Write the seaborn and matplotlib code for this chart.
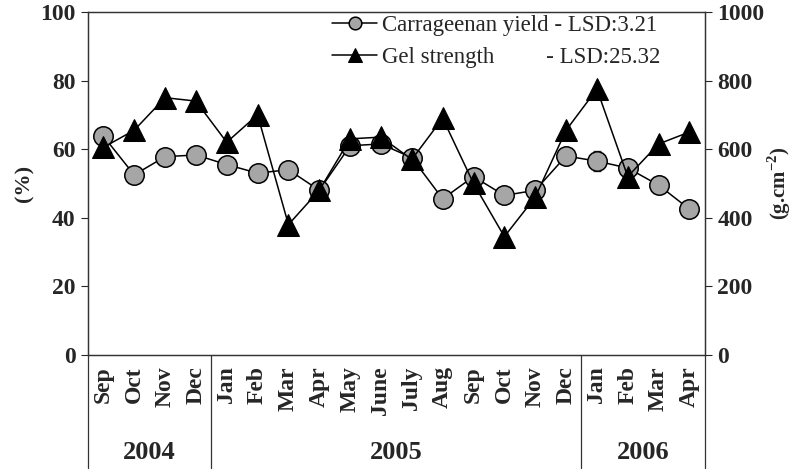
import matplotlib
matplotlib.use("Agg")
import matplotlib.pyplot as plt
import seaborn as sns
import numpy as np
import pandas as pd

months = ["Sep", "Oct", "Nov", "Dec", "Jan", "Feb", "Mar", "Apr", "May", "June",
          "July", "Aug", "Sep", "Oct", "Nov", "Dec", "Jan", "Feb", "Mar", "Apr"]
years = ["2004", "2005", "2006"]
year_counts = [4, 12, 4]
carrageenan_yield = [63.8, 52.5, 57.8, 58.3, 55.5, 53.0, 54.0, 48.0, 61.0, 61.5,
                     57.5, 45.5, 52.0, 46.5, 48.0, 58.0, 56.5, 54.5, 49.5, 42.5]
yield_err = [0, 0, 0, 0, 0, 0, 0, 0, 0, 0, 0, 0, 0, 0, 0, 0, 3.0, 0, 0, 0]
gel_strength = [605, 655, 750, 740, 620, 700, 380, 480, 630, 635,
                570, 690, 500, 345, 460, 655, 775, 520, 615, 650]

sns.set_style("white")
plt.rcParams['font.family'] = ['Liberation Serif', 'DejaVu Serif']
plt.rcParams['mathtext.fontset'] = 'custom'
plt.rcParams['mathtext.rm'] = 'Liberation Serif'
plt.rcParams['mathtext.bf'] = 'Liberation Serif:bold'

n = len(months)
idx = np.arange(n)
df = pd.DataFrame({"i": idx, "yield": carrageenan_yield, "gel": gel_strength})

fig = plt.figure(figsize=(7.92, 4.70), dpi=100)
ax = fig.add_axes([0.111, 0.2447, 0.779, 0.730])
ax2 = ax.twinx()

ax.errorbar(idx, carrageenan_yield, yerr=yield_err, fmt='none', ecolor='#444444',
            elinewidth=1, capsize=3, zorder=1)
sns.lineplot(data=df, x="i", y="yield", ax=ax, color="black", linewidth=1.1,
             marker="o", markersize=14, markerfacecolor="#a6a6a6",
             markeredgecolor="black", markeredgewidth=1.1, zorder=3,
             label="Carrageenan yield - LSD:3.21", legend=False)
sns.lineplot(data=df, x="i", y="gel", ax=ax2, color="black", linewidth=1.1,
             marker="^", markersize=16, markerfacecolor="black",
             markeredgecolor="black", zorder=3,
             label="Gel strength         - LSD:25.32", legend=False)

ax.set_xlim(-0.5, n - 0.5)
ax.set_ylim(0, 100)
ax2.set_ylim(0, 1000)
ax.set_yticks([0, 20, 40, 60, 80, 100])
ax2.set_yticks([0, 200, 400, 600, 800, 1000])
ax.set_xticks(idx)
ax.set_xticklabels(months, rotation=90, fontsize=17, fontweight="bold")
ax.tick_params(axis="x", length=0, pad=8)
ax.tick_params(axis="y", direction="out", length=5, width=0.8, labelsize=17, left=True, pad=4)
ax2.tick_params(axis="y", direction="out", length=5, width=0.8, labelsize=17, right=True, pad=4)
for lab in ax.get_yticklabels() + ax2.get_yticklabels():
    lab.set_fontweight("bold")
ax.set_xlabel("")
ax.set_ylabel("(%)", fontsize=16, fontweight="bold", labelpad=4)
ax2.set_ylabel("(g.cm$^{\\mathbf{-2}}$)", fontsize=15, fontweight="bold", labelpad=1)

for a in (ax, ax2):
    for s in a.spines.values():
        s.set_color("#333333")
        s.set_linewidth(0.9)

# group separators below the axis
bounds = [-0.5]
for c in year_counts:
    bounds.append(bounds[-1] + c)
bounds[-1] = n - 0.5
for b in bounds:
    ax.axvline(b, ymin=-0.33, ymax=0, color="#333333", linewidth=0.9, clip_on=False)
for k, yr in enumerate(years):
    mid = (bounds[k] + bounds[k + 1]) / 2
    ax.text(mid, -0.283, yr, transform=ax.get_xaxis_transform(), ha="center",
            va="center", fontsize=19, fontweight="bold")

h1, l1 = ax.get_legend_handles_labels()
h2, l2 = ax2.get_legend_handles_labels()
ax2.legend(h1 + h2, l1 + l2, loc="upper left", frameon=False, fontsize=16.5,
           handlelength=2.0, handletextpad=0.2, labelspacing=0.45,
           borderaxespad=0, borderpad=0, markerscale=0.65,
           bbox_to_anchor=(0.395, 0.99))

fig.savefig("out.png", dpi=100)
